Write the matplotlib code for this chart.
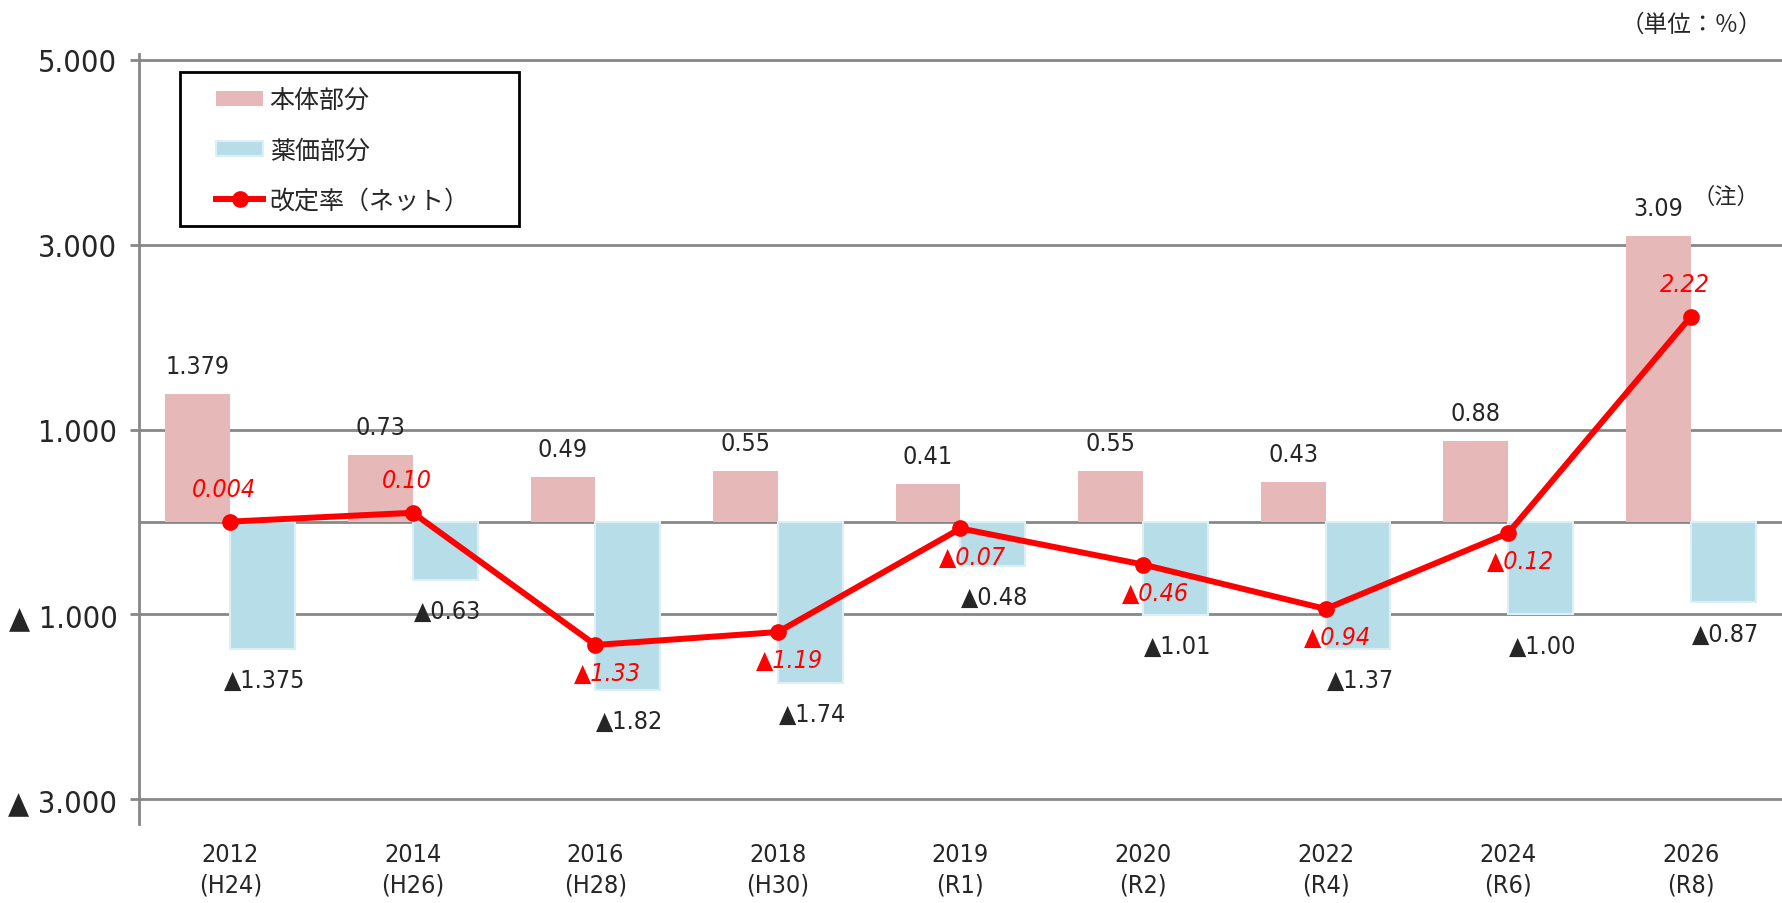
import matplotlib
matplotlib.use("Agg")
import matplotlib.pyplot as plt
from matplotlib.patches import Rectangle
import numpy as np

# --- data ---
years = ["2012\n(H24)", "2014\n(H26)", "2016\n(H28)", "2018\n(H30)", "2019\n(R1)",
         "2020\n(R2)", "2022\n(R4)", "2024\n(R6)", "2026\n(R8)"]
honntai = [1.379, 0.73, 0.49, 0.55, 0.41, 0.55, 0.43, 0.88, 3.09]
yakka = [-1.375, -0.63, -1.82, -1.74, -0.48, -1.01, -1.37, -1.00, -0.87]
net = [0.004, 0.10, -1.33, -1.19, -0.07, -0.46, -0.94, -0.12, 2.22]
honntai_txt = ["1.379", "0.73", "0.49", "0.55", "0.41", "0.55", "0.43", "0.88", "3.09"]
yakka_txt = ["1.375", "0.63", "1.82", "1.74", "0.48", "1.01", "1.37", "1.00", "0.87"]
net_txt = ["0.004", "0.10", "1.33", "1.19", "0.07", "0.46", "0.94", "0.12", "2.22"]
yticks = [-3, -1, 1, 3, 5]
ytick_labels = ["▲ 3.000", "▲ 1.000", "1.000", "3.000", "5.000"]

# condensed DejaVu for the numbers, Noto CJK for Japanese
plt.rcParams['font.family'] = ['DejaVu Sans', 'Noto Sans CJK JP']
plt.rcParams['font.stretch'] = 'condensed'
JP = ['Noto Sans CJK JP']

PINK = '#E6B8B7'
BLUE = '#B7DEE8'
GRID = '#878787'
TXT = '#262626'
RED = '#FF0000'

fig = plt.figure(figsize=(17.82, 9.04), dpi=100)
ax = fig.add_axes([0.078, 0.087, 0.922, 0.852])

x = np.arange(len(years))
w = 0.355
b1 = ax.bar(x - w / 2, honntai, w, color=PINK, zorder=2)
b2 = ax.bar(x + w / 2, yakka, w, color=BLUE, edgecolor='#DDEFF4', linewidth=1.5, zorder=2)
ln, = ax.plot(x, net, color=RED, lw=4.3, marker='o', ms=11, zorder=4)

# gridlines (including 0)
for g in yticks + [0]:
    ax.axhline(g, color=GRID, lw=2, zorder=1)

ax.set_xlim(-0.5, len(years) - 0.5)
ax.set_ylim(-3.27, 5.06)
ax.set_yticks(yticks)
ax.set_yticklabels(ytick_labels, fontsize=22, color=TXT)
ax.tick_params(axis='y', length=6.5, width=2, color=GRID, pad=9)
ax.set_xticks(x)
ax.set_xticklabels(years, fontsize=18, color=TXT, linespacing=1.3)
ax.tick_params(axis='x', length=0, pad=13)
for s in ['top', 'right', 'bottom']:
    ax.spines[s].set_visible(False)
ax.spines['left'].set_color(GRID)
ax.spines['left'].set_linewidth(2)

# labels
for i in range(len(years)):
    ax.annotate(honntai_txt[i], (x[i] - w / 2, honntai[i]), xytext=(0, 28),
                textcoords='offset pixels', ha='center', va='center', fontsize=18, color=TXT)
    ax.annotate('▲' + yakka_txt[i], (x[i] + w / 2, yakka[i]), xytext=(2, -31),
                textcoords='offset pixels', ha='center', va='center', fontsize=18, color=TXT)
    if net[i] >= 0:
        ax.annotate(net_txt[i], (x[i], net[i]), xytext=(-6, 33),
                    textcoords='offset pixels', ha='center', va='center', fontsize=18,
                    color=RED, style='italic')
    else:
        ax.annotate('▲' + net_txt[i], (x[i], net[i]), xytext=(12, -28),
                    textcoords='offset pixels', ha='center', va='center', fontsize=18,
                    color=RED, style='italic')

ax.annotate('（注）', (x[-1] - w / 2, honntai[-1]), xytext=(68, 40),
            textcoords='offset pixels', ha='center', va='center', fontsize=16, color=TXT,
            family=JP)
fig.text(0.989, 0.972, '（単位：％）', ha='right', va='center', fontsize=17, color=TXT,
         family=JP)

# legend: frameless entries + separate box
leg = ax.legend([b1, b2, ln], ['本体部分', '薬価部分', '改定率（ネット）'],
                loc='upper left', bbox_to_anchor=(0.0468, 0.9566),
                prop={'family': JP, 'size': 18},
                frameon=False, handlelength=1.9, handleheight=0.55, labelspacing=0.95,
                borderpad=0, handletextpad=0.25, borderaxespad=0)
for t in leg.get_texts():
    t.set_color(TXT)
ax.add_patch(Rectangle((0.025, 0.7766), 0.2063, 0.2, transform=ax.transAxes,
                       fill=False, edgecolor='black', lw=2, zorder=5, clip_on=False))

fig.savefig('out.png', dpi=100)
